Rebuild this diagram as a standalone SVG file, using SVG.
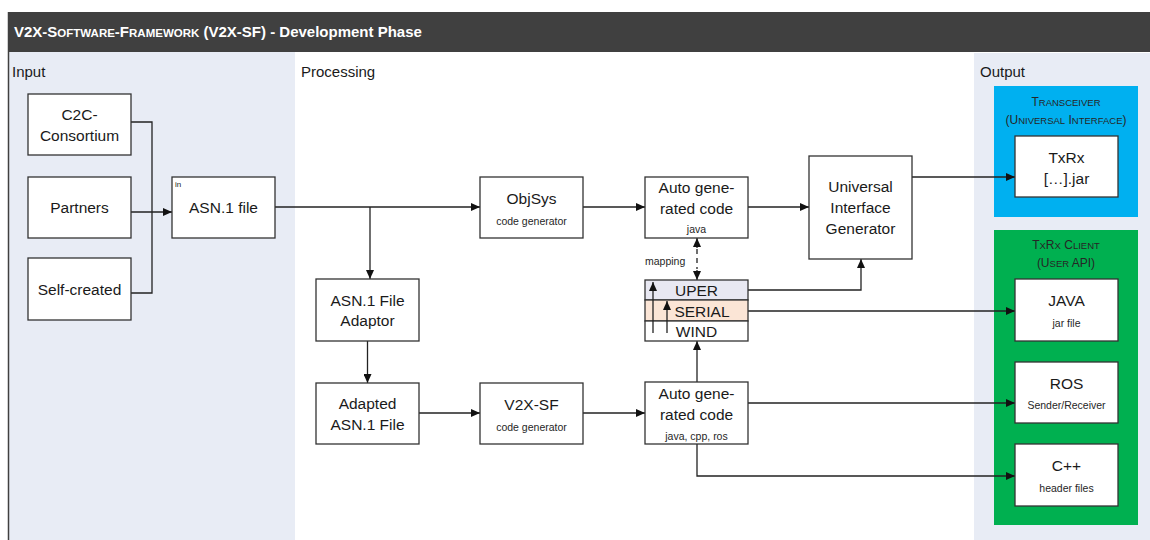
<svg xmlns="http://www.w3.org/2000/svg" width="1150" height="540" viewBox="0 0 1150 540">
  <defs>
    <marker id="arrow" markerWidth="9" markerHeight="8" refX="9" refY="4" orient="auto" markerUnits="userSpaceOnUse">
      <path d="M0,0 L9,4 L0,8 z" fill="#111"/>
    </marker>
    <style>
      .box { fill: #ffffff; stroke: #333333; stroke-width: 1.3; }
      .wire { fill: none; stroke: #222222; stroke-width: 1.3; }
      .lbl { font-family: "Liberation Sans", Arial, sans-serif; font-size: 15.5px; fill: #1a1a1a; text-anchor: middle; }
      .sub { font-family: "Liberation Sans", Arial, sans-serif; font-size: 10.5px; fill: #262626; text-anchor: middle; }
      .tiny { font-family: "Liberation Sans", Arial, sans-serif; font-size: 10.5px; fill: #262626; }
      .sec { font-family: "Liberation Sans", Arial, sans-serif; font-size: 15px; fill: #1a1a1a; }
      .cap { font-family: "Liberation Sans", Arial, sans-serif; font-size: 12px; fill: #262626; text-anchor: middle; }
      .cap .sm { font-size: 9.5px; }
    </style>
  </defs>

  <!-- background and section panels -->
  <rect x="0" y="0" width="1150" height="540" fill="#ffffff"/>
  <rect x="8" y="52" width="287" height="488" fill="#e8ecf5"/>
  <rect x="974" y="53" width="176" height="487" fill="#e8ecf5"/>
  <line x1="8.5" y1="12" x2="8.5" y2="540" stroke="#404040" stroke-width="1.5"/>

  <!-- title bar -->
  <rect x="8" y="12" width="1142" height="40" fill="#404040"/>
  <text x="14" y="37" font-family="Liberation Sans, Arial, sans-serif" font-size="15" font-weight="bold" fill="#ffffff">V2X-S<tspan font-size="11.5">OFTWARE</tspan>-F<tspan font-size="11.5">RAMEWORK</tspan> (V2X-SF) - Development Phase</text>

  <!-- section titles -->
  <text class="sec" x="12" y="77">Input</text>
  <text class="sec" x="301" y="77">Processing</text>
  <text class="sec" x="980" y="77">Output</text>

  <!-- output containers -->
  <g id="transceiver">
    <rect x="994" y="86" width="144" height="131" fill="#00b0f0"/>
    <text class="cap" x="1066" y="106">T<tspan class="sm">RANSCEIVER</tspan></text>
    <text class="cap" x="1066" y="124">(U<tspan class="sm">NIVERSAL</tspan> I<tspan class="sm">NTERFACE</tspan>)</text>
  </g>
  <g id="txrx-client">
    <rect x="994" y="230" width="144" height="295" fill="#00b050"/>
    <text class="cap" x="1066" y="249">T<tspan class="sm">X</tspan>R<tspan class="sm">X</tspan> C<tspan class="sm">LIENT</tspan></text>
    <text class="cap" x="1066" y="267">(U<tspan class="sm">SER</tspan> API)</text>
  </g>

  <!-- connectors -->
  <g id="connectors">
    <path class="wire" d="M131,122 H152 V293 H131"/>
    <path class="wire" d="M131,212 H172" marker-end="url(#arrow)"/>
    <path class="wire" d="M275,207 H480" marker-end="url(#arrow)"/>
    <path class="wire" d="M370,207 V279" marker-end="url(#arrow)"/>
    <path class="wire" d="M367.5,341 V383" marker-end="url(#arrow)"/>
    <path class="wire" d="M419,413 H480" marker-end="url(#arrow)"/>
    <path class="wire" d="M583,207 H645" marker-end="url(#arrow)"/>
    <path class="wire" d="M583,413 H645" marker-end="url(#arrow)"/>
    <path class="wire" d="M748,207 H809" marker-end="url(#arrow)"/>
    <path class="wire" d="M912,177 H1015" marker-end="url(#arrow)"/>
    <path class="wire" d="M697,249 V269" stroke-dasharray="5,4"/>
    <path class="wire" d="M697,248 V238" marker-end="url(#arrow)"/>
    <path class="wire" d="M697,270 V280" marker-end="url(#arrow)"/>
    <path class="wire" d="M697,382 V341" marker-end="url(#arrow)"/>
    <path class="wire" d="M748,290 H861 V259" marker-end="url(#arrow)"/>
    <path class="wire" d="M748,311 H1015" marker-end="url(#arrow)"/>
    <path class="wire" d="M748,403 H1015" marker-end="url(#arrow)"/>
    <path class="wire" d="M697,444 V476 H1015" marker-end="url(#arrow)"/>
  </g>

  <!-- input sources -->
  <g id="c2c">
    <rect class="box" x="28" y="94" width="103" height="61"/>
    <text class="lbl" x="79.5" y="120">C2C-</text>
    <text class="lbl" x="79.5" y="141">Consortium</text>
  </g>
  <g id="partners">
    <rect class="box" x="28" y="177" width="103" height="61"/>
    <text class="lbl" x="79.5" y="213">Partners</text>
  </g>
  <g id="self-created">
    <rect class="box" x="28" y="258" width="103" height="62"/>
    <text class="lbl" x="79.5" y="295">Self-created</text>
  </g>
  <g id="asn-file">
    <rect class="box" x="172" y="177" width="103" height="61"/>
    <text class="tiny" x="175" y="187" style="font-size:8px">in</text>
    <text class="lbl" x="223.5" y="213">ASN.1 file</text>
  </g>

  <!-- processing -->
  <g id="asn-adaptor">
    <rect class="box" x="316" y="279" width="103" height="62"/>
    <text class="lbl" x="367.5" y="306">ASN.1 File</text>
    <text class="lbl" x="367.5" y="326">Adaptor</text>
  </g>
  <g id="adapted-asn">
    <rect class="box" x="316" y="383" width="103" height="61"/>
    <text class="lbl" x="367.5" y="409">Adapted</text>
    <text class="lbl" x="367.5" y="430">ASN.1 File</text>
  </g>
  <g id="objsys">
    <rect class="box" x="480" y="177" width="103" height="61"/>
    <text class="lbl" x="531.5" y="204">ObjSys</text>
    <text class="sub" x="531.5" y="225">code generator</text>
  </g>
  <g id="v2xsf-gen">
    <rect class="box" x="480" y="383" width="103" height="61"/>
    <text class="lbl" x="531.5" y="410">V2X-SF</text>
    <text class="sub" x="531.5" y="431">code generator</text>
  </g>
  <g id="auto-code-java">
    <rect class="box" x="645" y="177" width="103" height="61"/>
    <text class="lbl" x="696.5" y="193">Auto gene-</text>
    <text class="lbl" x="696.5" y="214">rated code</text>
    <text class="tiny" x="696.5" y="233" text-anchor="middle">java</text>
  </g>
  <text class="tiny" x="645" y="265">mapping</text>
  <g id="encoding-stack">
    <rect x="645" y="280" width="103" height="20" fill="#e8e8f2" stroke="#333" stroke-width="1.3"/>
    <rect x="645" y="300" width="103" height="21" fill="#fbe5d6" stroke="#333" stroke-width="1.3"/>
    <rect x="645" y="321" width="103" height="20" fill="#ffffff" stroke="#333" stroke-width="1.3"/>
    <text class="lbl" x="696.5" y="296">UPER</text>
    <text class="lbl" x="702" y="317">SERIAL</text>
    <text class="lbl" x="696.5" y="337">WIND</text>
    <path class="wire" d="M653,333 V282" marker-end="url(#arrow)"/>
    <path class="wire" d="M667,333 V301" marker-end="url(#arrow)"/>
  </g>
  <g id="auto-code-multi">
    <rect class="box" x="645" y="382" width="103" height="62"/>
    <text class="lbl" x="696.5" y="399">Auto gene-</text>
    <text class="lbl" x="696.5" y="420">rated code</text>
    <text class="tiny" x="696.5" y="440" text-anchor="middle">java, cpp, ros</text>
  </g>
  <g id="ui-generator">
    <rect class="box" x="809" y="156" width="103" height="103"/>
    <text class="lbl" x="860.5" y="192">Universal</text>
    <text class="lbl" x="860.5" y="213">Interface</text>
    <text class="lbl" x="860.5" y="234">Generator</text>
  </g>

  <!-- output artefacts -->
  <g id="txrx-jar">
    <rect class="box" x="1015" y="136" width="103" height="61"/>
    <text class="lbl" x="1066.5" y="163">TxRx</text>
    <text class="lbl" x="1066.5" y="184">[…].jar</text>
  </g>
  <g id="java-client">
    <rect class="box" x="1015" y="279" width="103" height="62"/>
    <text class="lbl" x="1066.5" y="306">JAVA</text>
    <text class="sub" x="1066.5" y="327">jar file</text>
  </g>
  <g id="ros-client">
    <rect class="box" x="1015" y="362" width="103" height="61"/>
    <text class="lbl" x="1066.5" y="389">ROS</text>
    <text class="sub" x="1066.5" y="409">Sender/Receiver</text>
  </g>
  <g id="cpp-client">
    <rect class="box" x="1015" y="444" width="103" height="62"/>
    <text class="lbl" x="1066.5" y="471">C++</text>
    <text class="sub" x="1066.5" y="492">header files</text>
  </g>
</svg>
